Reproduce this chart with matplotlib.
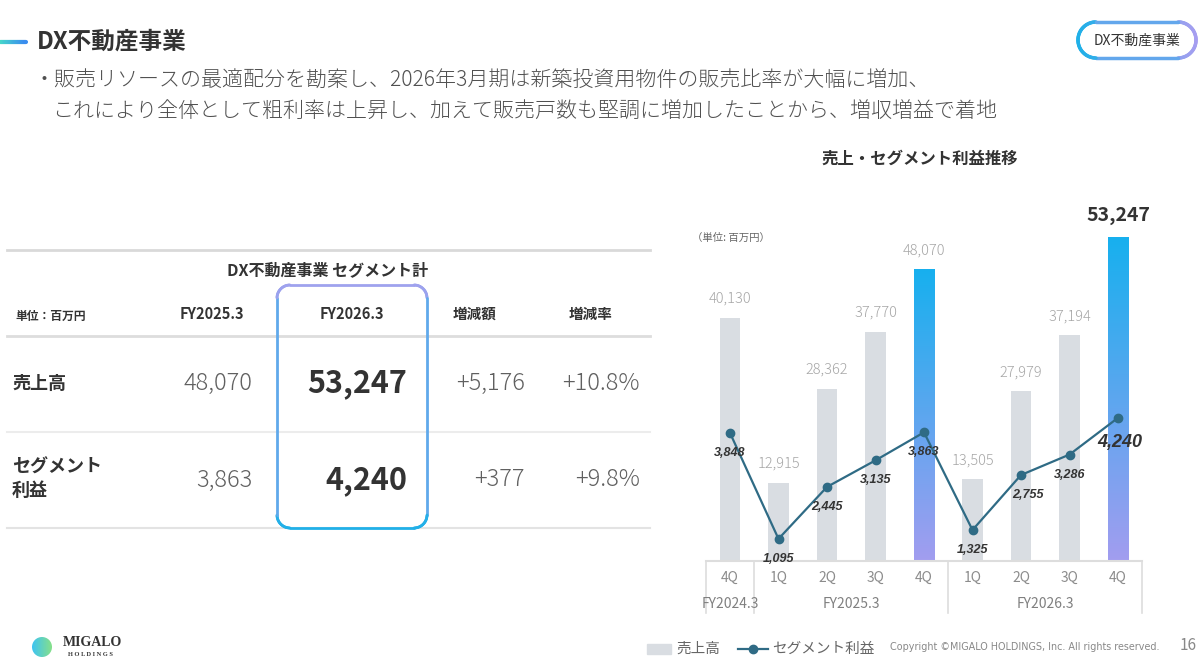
import numpy as np
import matplotlib.pyplot as plt
from matplotlib.collections import LineCollection
from matplotlib.colors import LinearSegmentedColormap, to_rgb
from matplotlib.patches import Rectangle, Circle

plt.rcParams['font.family'] = ['Noto Sans CJK JP', 'DejaVu Sans']

# chart data (百万円)
quarters = ['4Q', '1Q', '2Q', '3Q', '4Q', '1Q', '2Q', '3Q', '4Q']
fiscal_years = ['FY2024.3', 'FY2025.3', 'FY2026.3']
fy_spans = [(0, 0), (1, 4), (5, 8)]
sales = [40130, 12915, 28362, 37770, 48070, 13505, 27979, 37194, 53247]
profit = [3848, 1095, 2445, 3135, 3863, 1325, 2755, 3286, 4240]
highlight = [4, 8]

# table data
table_cols = ['FY2025.3', 'FY2026.3', '増減額', '増減率']
table_rows = ['売上高', 'セグメント\n利益']
prev_year = [48070, 3863]
this_year = [53247, 4240]
change = [5176, 377]
change_pct = [10.8, 9.8]

GRAY_BAR = '#d9dde2'
LINE_C = '#2f6b85'
CYAN = '#17b0ee'
LAVENDER = '#a29df0'


def grad_line(ax, xs, ys, c0, c1, t, lw):
    pts = np.column_stack([xs, ys])
    segs = np.stack([pts[:-1], pts[1:]], axis=1)
    a, b = np.array(to_rgb(c0)), np.array(to_rgb(c1))
    tt = (t[:-1] + t[1:]) / 2
    cols = a + (b - a) * tt[:, None]
    ax.add_collection(LineCollection(segs, colors=cols, linewidths=lw, capstyle='round'))


def round_rect(x0, y0, x1, y1, r, n=24):
    pts = []
    for cx, cy, a0, a1 in [(x1 - r, y0 + r, -90, 0), (x1 - r, y1 - r, 0, 90),
                           (x0 + r, y1 - r, 90, 180), (x0 + r, y0 + r, 180, 270)]:
        ang = np.radians(np.linspace(a0, a1, n))
        pts.append(np.column_stack([cx + r * np.cos(ang), cy + r * np.sin(ang)]))
    pts = np.vstack(pts)
    pts = np.vstack([pts, pts[:1]])
    return pts[:, 0], pts[:, 1]


fig = plt.figure(figsize=(12, 6.65), dpi=100)
bg = fig.add_axes([0, 0, 1, 1])
bg.set_xlim(0, 1200)
bg.set_ylim(665, 0)
bg.axis('off')

# header
hx = np.linspace(0, 26, 30)
grad_line(bg, hx, np.full_like(hx, 42), '#46dcc8', '#3a8cf0', hx / 26, 3)
bg.text(37, 42, 'DX不動産事業', fontsize=17, fontweight='bold', color='#333333', va='center')
bg.text(33, 80, '・販売リソースの最適配分を勘案し、2026年3月期は新築投資用物件の販売比率が大幅に増加、',
        fontsize=15.1, fontweight='light', color='#505050', va='center')
bg.text(52, 112, 'これにより全体として粗利率は上昇し、加えて販売戸数も堅調に増加したことから、増収増益で着地',
        fontsize=15.1, fontweight='light', color='#505050', va='center')

# badge top right
bx, by = round_rect(1078, 22, 1196, 58, 18)
grad_line(bg, bx, by, '#1fb0e8', '#a69ef0', (bx - 1078) / 118, 2.5)
bg.text(1137, 41, 'DX不動産事業', fontsize=10, color='#333333', ha='center', va='center')

# table
for yy, c, lw in [(250, '#d9d9d9', 2), (336, '#dddddd', 2), (432, '#ececec', 1.5), (528, '#e3e3e3', 1.5)]:
    bg.plot([7, 650], [yy, yy], color=c, lw=lw)
bg.text(328, 271, 'DX不動産事業 セグメント計', fontsize=11.5, fontweight='bold', color='#333333',
        ha='center', va='center')
bg.text(15, 316, '単位：百万円', fontsize=8.5, fontweight='bold', color='#333333', va='center')
for cx, lab in zip([212, 352, 475, 591], table_cols):
    bg.text(cx, 314, lab, fontsize=10.5, fontweight='bold', color='#333333', ha='center', va='center')
row_y = [383, 480]
bg.text(12, 383, table_rows[0], fontsize=13, fontweight='bold', color='#333333', va='center')
bg.text(12, 479, table_rows[1], fontsize=13, fontweight='bold', color='#333333', va='center',
        linespacing=1.25)
for i, yy in enumerate(row_y):
    bg.text(252, yy, f'{prev_year[i]:,}', fontsize=17, fontweight='light', color='#606060', ha='right', va='center')
    bg.text(407, yy, f'{this_year[i]:,}', fontsize=22, fontweight='bold', color='#333333', ha='right', va='center')
    bg.text(525, yy, f'+{change[i]:,}', fontsize=17, fontweight='light', color='#606060', ha='right', va='center')
    bg.text(640, yy, f'+{change_pct[i]}%', fontsize=17, fontweight='light', color='#606060', ha='right', va='center')
rx, ry = round_rect(277, 285, 427, 528, 13)
grad_line(bg, rx, ry, '#9fa2ee', '#21b0e8', (ry - 285) / 243, 2)

# chart title and unit
bg.text(920, 159, '売上・セグメント利益推移', fontsize=11.8, fontweight='bold', color='#333333',
        ha='center', va='center')
bg.text(692, 238, '（単位: 百万円）', fontsize=7.5, color='#666666', va='center')

# chart
ax = fig.add_axes([705.75 / 1200, 104 / 665, 436.5 / 1200, 361 / 665])
ax.patch.set_alpha(0)
x = np.arange(len(sales))
bar_w = 0.43
bars = ax.bar(x, sales, width=bar_w, color=GRAY_BAR, zorder=1)
cmap = LinearSegmentedColormap.from_list('hl', [LAVENDER, CYAN])
grad = np.linspace(0, 1, 256).reshape(-1, 1)
for i in highlight:
    bars[i].set_facecolor('none')
    ax.imshow(grad, extent=[x[i] - bar_w / 2, x[i] + bar_w / 2, 0, sales[i]], origin='lower',
              cmap=cmap, aspect='auto', zorder=1)
ax.set_xlim(-0.5, len(sales) - 0.5)
ax.set_ylim(0, 59500)
for i, v in enumerate(sales):
    if i == len(sales) - 1:
        ax.annotate(f'{v:,}', (x[i], v), xytext=(0, 16.5), textcoords='offset points', ha='center',
                    va='center', fontsize=14, fontweight='bold', color='#333333')
    else:
        ax.annotate(f'{v:,}', (x[i], v), xytext=(0, 13.7), textcoords='offset points', ha='center',
                    va='center', fontsize=10.5, fontweight='light', color='#a6a6a6')

ax2 = ax.twinx()
ax2.set_ylim(520, 9900)
ax2.plot(x, profit, color=LINE_C, lw=1.6, marker='o', ms=6, zorder=3)
for i, v in enumerate(profit):
    last = i == len(profit) - 1
    dx = 5 if i == 6 else (1.5 if last else 0)
    ax2.annotate(f'{v:,}', (x[i], v), xytext=(dx, -18 if last else -14.5), textcoords='offset points',
                 ha='center', va='center', fontsize=13 if last else 9, fontweight='bold',
                 fontstyle='italic', family='Liberation Sans', color='#333333')

for a in (ax, ax2):
    for s in a.spines.values():
        s.set_visible(False)
    a.set_xticks([])
    a.set_yticks([])

trans = ax.get_xaxis_transform()
ax.plot([-0.5, len(sales) - 0.5], [0, 0], transform=trans, color='#dddddd', lw=1.5, clip_on=False)
for bnd in [-0.5] + [b + 0.5 for _, b in fy_spans]:
    ax.plot([bnd, bnd], [0, -0.144], transform=trans, color='#dddddd', lw=1.2, clip_on=False)
for i, q in enumerate(quarters):
    ax.text(x[i], -0.047, q, transform=trans, ha='center', va='center', fontsize=10, color='#8c8c8c')
for name, (a0, a1) in zip(fiscal_years, fy_spans):
    ax.text((x[a0] + x[a1]) / 2, -0.119, name, transform=trans, ha='center', va='center',
            fontsize=10, color='#808080')

# legend
bg.add_patch(Rectangle((647, 644), 24, 10, color=GRAY_BAR))
bg.text(676, 649, '売上高', fontsize=10.5, color='#666666', va='center')
bg.plot([738, 768], [649, 649], color=LINE_C, lw=1.6)
bg.plot([753], [649], marker='o', ms=6, color=LINE_C)
bg.text(772, 649, 'セグメント利益', fontsize=10.5, color='#666666', va='center')

# footer
bg.text(890, 647, 'Copyright ©MIGALO HOLDINGS, Inc. All rights reserved.', fontsize=6.9,
        family='DejaVu Sans', color='#888888', va='center')
bg.text(1188, 645, '16', fontsize=11, color='#888888', ha='center', va='center')

# logo
logo = Circle((42, 647), 10, transform=bg.transData)
im = bg.imshow(np.linspace(0, 1, 64).reshape(1, -1), extent=[32, 52, 657, 637],
               cmap=LinearSegmentedColormap.from_list('lg', ['#3ec4f2', '#86e08a']), aspect='auto')
im.set_clip_path(logo)
bg.set_xlim(0, 1200)
bg.set_ylim(665, 0)
bg.text(63, 643, 'MIGALO', fontsize=10, fontweight='bold', family='Liberation Serif', color='#333333', va='center')
bg.text(68, 654, 'H O L D I N G S', fontsize=4.6, fontweight='bold', family='Liberation Serif', color='#333333', va='center')

fig.savefig('out.png', dpi=100)
